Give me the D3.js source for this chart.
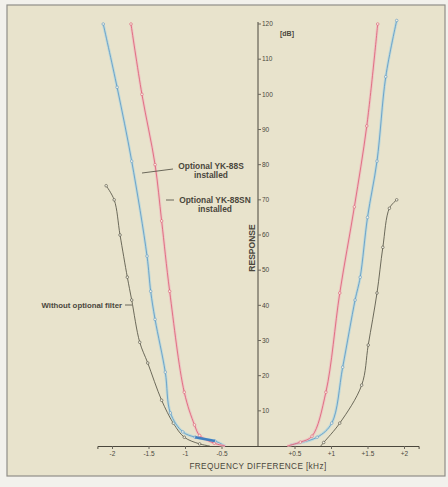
<!DOCTYPE html>
<html>
<head>
<meta charset="utf-8">
<script src="https://cdn.jsdelivr.net/npm/d3@7"></script>
<style>
  body { margin: 0; background: #f2f1ec; }
  svg { display: block; }
  text { font-family: "Liberation Sans", Arial, sans-serif; fill: #4a473c; }
</style>
</head>
<body>
<svg id="chart" width="448" height="487"></svg>
<script>
// frequency difference [kHz] vs response [dB]
const withoutLeft = [[-0.66, 0], [-0.8, 0.6], [-1.01, 2.5], [-1.16, 6.5], [-1.32, 13], [-1.51, 23.6], [-1.62, 29.5], [-1.73, 41.5], [-1.79, 48], [-1.89, 60], [-1.97, 70], [-2.08, 74]]
const withoutRight = [[0.86, 0], [0.9, 1], [1.12, 6.5], [1.42, 17.3], [1.51, 28.7], [1.63, 43.5], [1.71, 56.5], [1.8, 67.6], [1.9, 70]]
const yk88sLeft = [[-0.45, 0], [-0.59, 1.4], [-0.86, 2.5], [-1.03, 4], [-1.2, 9.4], [-1.27, 21], [-1.41, 36], [-1.47, 44], [-1.52, 54], [-1.73, 81], [-1.93, 102], [-2.12, 120]]
const yk88sRight = [[0.44, 0.3], [0.81, 2.5], [1.01, 6.5], [1.16, 22.4], [1.33, 41.5], [1.4, 48], [1.5, 65], [1.63, 81], [1.75, 105], [1.9, 121]]
const yk88snLeft = [[-0.45, 0], [-0.6, 0.8], [-0.8, 3], [-0.87, 6], [-1.01, 15.3], [-1.21, 44], [-1.32, 64], [-1.41, 80], [-1.59, 100], [-1.74, 120]]
const yk88snRight = [[0.4, 0], [0.58, 1.1], [0.74, 2.8], [0.93, 15.3], [1.12, 43.5], [1.32, 68], [1.49, 91], [1.64, 120]]

const xTicks = [-2, -1.5, -1, -0.5, 0.5, 1, 1.5, 2]
const xTickLabels = ["-2", "-1.5", "-1", "-0.5", "+0.5", "+1", "+1.5", "+2"]
const yTicks = [10, 20, 30, 40, 50, 60, 70, 80, 90, 100, 110, 120]

const svg = d3.select("#chart")

// paper
svg.append("rect").attr("x", 7).attr("y", 5).attr("width", 438).attr("height", 471)
  .attr("fill", "#e8e3cc").attr("stroke", "#8f8e88").attr("stroke-width", 1.2)

const x = d3.scaleLinear().domain([-2.2, 2.2]).range([97.4, 418.6])
const y = d3.scaleLinear().domain([0, 120]).range([446, 24])

const line = d3.line().x((d) => x(d[0])).y((d) => y(d[1])).curve(d3.curveCatmullRom.alpha(0.5))

// x axis
const gx = svg.append("g").attr("transform", `translate(0,${y(0)})`)
  .call(d3.axisBottom(x).tickValues(xTicks).tickSize(3).tickFormat((d, i) => xTickLabels[i]))
gx.select(".domain").attr("stroke", "#4a473c").attr("stroke-width", 1)
gx.selectAll(".tick line").attr("stroke", "#6a675c")
gx.selectAll(".tick text").attr("font-size", 6.5).attr("dy", "0.55em").attr("fill", "#5a574c")

// y axis
const gy = svg.append("g").attr("transform", `translate(${x(0)},0)`)
gy.append("line").attr("y1", y(0)).attr("y2", y(120) - 2).attr("stroke", "#4a473c").attr("stroke-width", 1)
const yt = gy.selectAll(".yt").data(yTicks).enter().append("g").attr("transform", (d) => `translate(0,${y(d)})`)
yt.append("line").attr("x1", 0).attr("x2", 3).attr("stroke", "#6a675c")
yt.append("text").attr("x", 4).attr("dy", "0.35em").attr("font-size", 6.5).attr("fill", "#5a574c").text((d) => d)

svg.append("text").attr("x", 280).attr("y", 36).attr("font-size", 7).attr("font-weight", "bold").text("[dB]")
svg.append("text").attr("transform", `translate(255,248) rotate(-90)`).attr("text-anchor", "middle")
  .attr("font-size", 8.5).attr("font-weight", "bold").text("RESPONSE")
svg.append("text").attr("x", 258).attr("y", 469).attr("text-anchor", "middle")
  .attr("font-size", 8.2).attr("letter-spacing", 0.4).text("FREQUENCY DIFFERENCE [kHz]")

// curves
const series = [
  { name: "without", parts: [withoutLeft, withoutRight], color: "#4b4a3c", glow: null },
  { name: "yk88s", parts: [yk88sLeft, yk88sRight], color: "#5a96c4", glow: "#aed5df" },
  { name: "yk88sn", parts: [yk88snLeft, yk88snRight], color: "#dd5a74", glow: "#efbcc0" }
]

series.forEach((s) => {
  s.parts.forEach((pts) => {
    if (s.glow) {
      svg.append("path").attr("d", line(pts)).attr("fill", "none")
        .attr("stroke", s.glow).attr("stroke-width", 2.8).attr("opacity", 0.7)
    }
    svg.append("path").attr("d", line(pts)).attr("fill", "none")
      .attr("stroke", s.color).attr("stroke-width", 0.8)
    svg.selectAll(null).data(pts.filter((d) => d[1] > 0.5)).enter().append("circle")
      .attr("cx", (d) => x(d[0])).attr("cy", (d) => y(d[1])).attr("r", 1.3)
      .attr("fill", "#f4f1e2").attr("stroke", s.color).attr("stroke-width", 0.6)
  })
})

// thick blue segment near the floor
svg.append("path").attr("d", line(yk88sLeft.slice(1, 3))).attr("fill", "none")
  .attr("stroke", "#3f7fc0").attr("stroke-width", 2.5)

// annotations
const notes = svg.append("g").attr("font-size", 8.4).attr("font-weight", "bold").attr("fill", "#4a473c")
notes.append("text").attr("x", 211).attr("y", 169).attr("text-anchor", "middle").text("Optional YK-88S")
notes.append("text").attr("x", 211).attr("y", 178).attr("text-anchor", "middle").text("installed")
notes.append("text").attr("x", 215).attr("y", 203).attr("text-anchor", "middle").text("Optional YK-88SN")
notes.append("text").attr("x", 215).attr("y", 212).attr("text-anchor", "middle").text("installed")
notes.append("text").attr("x", 122).attr("y", 308).attr("text-anchor", "end").attr("font-size", 7.8).text("Without optional filter")

svg.append("line").attr("x1", 142).attr("y1", 173).attr("x2", 173).attr("y2", 169).attr("stroke", "#4a473c").attr("stroke-width", 0.8)
svg.append("line").attr("x1", 166).attr("y1", 200).attr("x2", 174).attr("y2", 200).attr("stroke", "#4a473c").attr("stroke-width", 0.8)
svg.append("line").attr("x1", 125).attr("y1", 305).attr("x2", 132).attr("y2", 305).attr("stroke", "#4a473c").attr("stroke-width", 0.8)
</script>
</body>
</html>
